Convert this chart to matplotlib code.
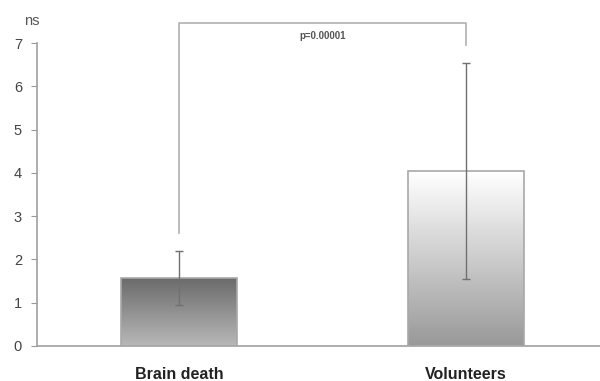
import matplotlib

matplotlib.use("Agg")
import matplotlib.pyplot as plt
import numpy as np

plt.rcParams["font.family"] = ["Liberation Sans", "DejaVu Sans"]

groups = ["Brain death", "Volunteers"]
means = [1.57, 4.04]
sds = [0.63, 2.49]
p_label = "p=0.00001"
yticks = [0, 1, 2, 3, 4, 5, 6, 7]

# top/bottom grey levels of each bar's vertical gradient
shades = [(0.42, 0.72), (1.0, 0.60)]

fig = plt.figure(figsize=(6.0, 3.81), dpi=100)
ax = fig.add_axes([0.062, 0.092, 0.938, 0.795])

x = np.arange(len(groups))
width = 0.404

for xi, m, (top, bot) in zip(x, means, shades):
    grad = np.linspace(top, bot, 100).reshape(-1, 1)
    ax.imshow(
        grad,
        cmap="gray",
        vmin=0,
        vmax=1,
        aspect="auto",
        extent=[xi - width / 2, xi + width / 2, 0, m],
        origin="upper",
        zorder=2,
    )
    ax.bar(xi, m, width=width, facecolor="none", edgecolor="#a8a8a8",
           linewidth=1.2, zorder=3)

ax.errorbar(x, means, yerr=sds, fmt="none", ecolor="#707070",
            elinewidth=1.0, capsize=3, capthick=1.0, zorder=4)

# significance bracket joining the two groups
br_top = 7.46
ax.plot([x[0], x[0], x[1], x[1]], [means[0] + sds[0] + 0.4, br_top, br_top, 6.95],
        color="#b0b0b0", lw=1.2, clip_on=False, zorder=1)
ax.text((x[0] + x[1]) / 2, 7.17, p_label, fontsize=7, fontweight="bold",
        ha="center", va="center", color="#555555")

ax.set_xlim(-0.495, 1.467)
ax.set_ylim(0, 7)
ax.set_yticks(yticks)
ax.set_xticks(x)
ax.set_xticklabels(groups, fontsize=11.5, fontweight="bold", color="#222222")
ax.tick_params(axis="x", length=0, pad=15)
ax.tick_params(axis="y", direction="out", length=4, color="#999999",
               labelsize=10.5, labelcolor="#444444", pad=7)

for side in ["top", "right"]:
    ax.spines[side].set_visible(False)
for side in ["left", "bottom"]:
    ax.spines[side].set_color("#a0a0a0")
    ax.spines[side].set_linewidth(1.2)

fig.text(0.04, 0.945, "ns", fontsize=10.5, color="#555555", ha="left", va="center")

fig.savefig("out.png", dpi=100)
